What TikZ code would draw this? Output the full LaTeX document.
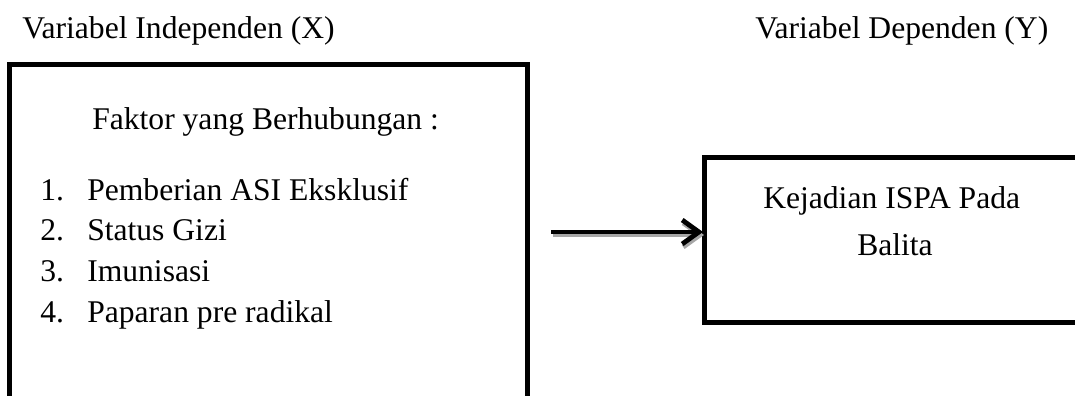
\documentclass[tikz,border=0pt]{standalone}
\usepackage{fontspec}
\setmainfont{Liberation Serif}
\usetikzlibrary{arrows.meta}
\begin{document}
\begin{tikzpicture}[x=0.75pt,y=-0.75pt,
  txt/.style={inner sep=0pt,anchor=base west,font=\fontsize{23.7}{28}\selectfont},
  frame/.style={draw=black,line width=3.6pt},
  link/.style={line width=3.6pt,-{Straight Barb[length=12.5pt,width=18pt]}}]
\useasboundingbox (0,0) rectangle (1075,396);
\clip (0,0) rectangle (1075,396);
% headings
\node[txt] (hx) at (22,38) {Variabel Independen (X)};
\node[txt] (hy) at (755,38) {Variabel Dependen (Y)};
% independent variable box
\draw[frame] (9.5,64.5) rectangle (527.5,430);
\node[txt] (fk) at (92,129) {Faktor yang Berhubungan :};
\node[txt] (n1) at (40,200) {1.};
\node[txt] (i1) at (87,200) {Pemberian ASI Eksklusif};
\node[txt] (n2) at (40,240.7) {2.};
\node[txt] (i2) at (87,240.7) {Status Gizi};
\node[txt] (n3) at (40,281.3) {3.};
\node[txt] (i3) at (87,281.3) {Imunisasi};
\node[txt] (n4) at (40,322) {4.};
\node[txt] (i4) at (87,322) {Paparan pre radikal};
% dependent variable box
\draw[frame] (1100,157.5) -- (704.5,157.5) -- (704.5,322.5) -- (1100,322.5);
\coordinate (yl) at (703,232);
\node[txt] (k1) at (763,208) {Kejadian ISPA Pada};
\node[txt] (k2) at (857,255) {Balita};
% arrow with its shadow
\coordinate (a0) at (551,232);
\draw[link,gray!70] ([shift={(2,3)}]a0) -- ([shift={(1,3)}]yl);
\draw[link] (a0) -- (yl);
\end{tikzpicture}
\end{document}
